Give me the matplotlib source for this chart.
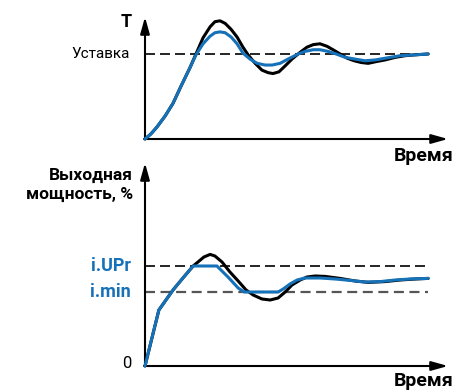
import matplotlib
matplotlib.use('Agg')
import matplotlib.pyplot as plt

plt.rcParams['font.family'] = ['Roboto', 'DejaVu Sans']

BLUE = '#1571b8'

# --- top chart: temperature (setpoint = 1.0), time in arbitrary units 0..100
t_top_black = [0, 2.1, 4.2, 7.1, 9.9, 12.7, 15.9, 18.0, 20.5, 23.0, 24.7, 26.5, 28.3,
               30.4, 32.5, 34.6, 36.4, 38.9, 41.3, 43.5, 45.2, 47.3, 49.5, 51.9, 54.8,
               57.2, 59.4, 61.8, 64.3, 66.4, 68.9, 71.4, 73.9, 76.3, 78.8, 81.6, 84.8,
               88.3, 91.9, 95.4, 100]
temp_black = [0, 0.06, 0.14, 0.27, 0.42, 0.62, 0.84, 1.0, 1.19, 1.32, 1.38, 1.39, 1.36,
              1.29, 1.2, 1.08, 0.99, 0.89, 0.81, 0.78, 0.77, 0.79, 0.86, 0.94, 1.02,
              1.08, 1.11, 1.12, 1.09, 1.05, 1.0, 0.95, 0.92, 0.9, 0.89, 0.91, 0.93,
              0.96, 0.98, 0.99, 1.0]

t_top_blue = [0, 2.1, 4.2, 7.1, 9.9, 12.7, 15.9, 18.0, 20.5, 23.0, 24.7, 26.5, 28.3,
              30.4, 32.5, 34.6, 37.1, 39.6, 42.4, 44.9, 47.7, 50.5, 54.1, 56.5, 59.4,
              61.8, 64.7, 67.5, 70.7, 74.2, 77.7, 81.3, 84.8, 90.1, 95.4, 100]
temp_blue = [0, 0.06, 0.14, 0.27, 0.42, 0.62, 0.84, 0.99, 1.12, 1.21, 1.25, 1.26, 1.25,
             1.2, 1.12, 1.01, 0.94, 0.89, 0.87, 0.87, 0.89, 0.94, 1.0, 1.03, 1.05,
             1.05, 1.03, 1.0, 0.96, 0.94, 0.92, 0.93, 0.95, 0.98, 0.99, 1.0]

setpoint = 1.0

# --- bottom chart: output power, %
t_bot_blue = [0, 4.9, 9.9, 13.4, 17.0, 25.4, 29.3, 32.9, 35.0, 47.0, 48.8, 51.2, 53.7,
              56.5, 61.8, 67.1, 72.4, 77.7, 83.0, 88.3, 93.6, 100]
power_blue = [0, 28, 38, 44, 50, 50, 44.5, 39, 37, 37, 38.5, 41, 43,
              44, 44, 43.5, 42.8, 42, 42.2, 43, 43.5, 43.8]

t_bot_black = [0, 4.9, 9.9, 13.4, 17.0, 18.7, 20.8, 23.0, 24.7, 27.2, 30.0, 32.9, 35.7,
               38.2, 41.3, 44.2, 47.0, 49.5, 51.9, 54.8, 57.2, 60.1, 63.6, 68.9, 74.2,
               78.8, 84.8, 90.1, 95.4, 100]
power_black = [0, 28, 38, 44, 50, 52, 54.5, 55.8, 55, 52, 47, 42.5, 38,
               35.5, 33.5, 33, 34, 37, 40.5, 43, 44.5, 45, 44.8, 43.8, 42.5,
               41.8, 42.2, 43, 43.5, 43.8]

i_upr = 50
i_min = 37

fig = plt.figure(figsize=(4.53, 3.9), dpi=100)

ax1 = fig.add_axes([145 / 453, 1 - 139 / 390, 303 / 453, 122 / 390])
ax2 = fig.add_axes([145 / 453, 1 - 366 / 390, 303 / 453, 203 / 390])

arrow = dict(arrowstyle='-|>,head_length=1.0,head_width=0.28', lw=1.5, color='black',
             mutation_scale=10, shrinkA=0, shrinkB=0)


def draw_axes(ax, ytop):
    ax.set_xlim(0, 107)
    ax.set_ylim(0, ytop)
    ax.axis('off')
    ax.annotate('', xy=(107, 0), xytext=(-0.3, 0), arrowprops=arrow, annotation_clip=False)
    ax.annotate('', xy=(0, ytop), xytext=(0, 0), arrowprops=arrow, annotation_clip=False)


# top
draw_axes(ax1, 1.435)
ax1.plot([0, 100], [setpoint, setpoint], color='black', lw=1.2, ls=(0, (6, 3)), zorder=1)
ax1.plot(t_top_black, temp_black, color='black', lw=2.2, zorder=2, clip_on=False,
         solid_capstyle='round', solid_joinstyle='round')
ax1.plot(t_top_blue, temp_blue, color=BLUE, lw=2.2, zorder=3, clip_on=False,
         solid_capstyle='round', solid_joinstyle='round')
ax1.text(-4.6, 1.376, 'T', ha='right', va='center', fontsize=13, fontweight='bold')
ax1.text(-5.3, setpoint, 'Уставка', ha='right', va='center', fontsize=11)
ax1.text(108.8, -0.2, 'Время', ha='right', va='center', fontsize=14, fontweight='bold',
         clip_on=False)

# bottom
draw_axes(ax2, 101.5)
ax2.plot([0, 100], [i_upr, i_upr], color='black', lw=1.2, ls=(0, (6, 3)), zorder=1)
ax2.plot([0, 100], [i_min, i_min], color='#555555', lw=1.6, ls=(0, (4.5, 2.5)), zorder=1)
ax2.plot(t_bot_black, power_black, color='black', lw=2.2, zorder=2, clip_on=False,
         solid_capstyle='round', solid_joinstyle='round')
ax2.plot(t_bot_blue, power_blue, color=BLUE, lw=2.2, zorder=3, clip_on=False,
         solid_capstyle='round', solid_joinstyle='round')
ax2.text(-5.0, i_upr, 'i.UPr', ha='right', va='center', fontsize=13, fontweight='bold',
         color=BLUE)
ax2.text(-5.0, i_min, 'i.min', ha='right', va='center', fontsize=13, fontweight='bold',
         color=BLUE)
ax2.text(-4.6, 1.5, '0', ha='right', va='center', fontsize=12)
ax2.text(-4.2, 95.5, 'Выходная', ha='right', va='center', fontsize=12.5, fontweight='bold')
ax2.text(-4.2, 86, 'мощность, %', ha='right', va='center', fontsize=12.5, fontweight='bold')
ax2.text(108.8, -7.5, 'Время', ha='right', va='center', fontsize=14, fontweight='bold')

fig.savefig('out.png', dpi=100)
